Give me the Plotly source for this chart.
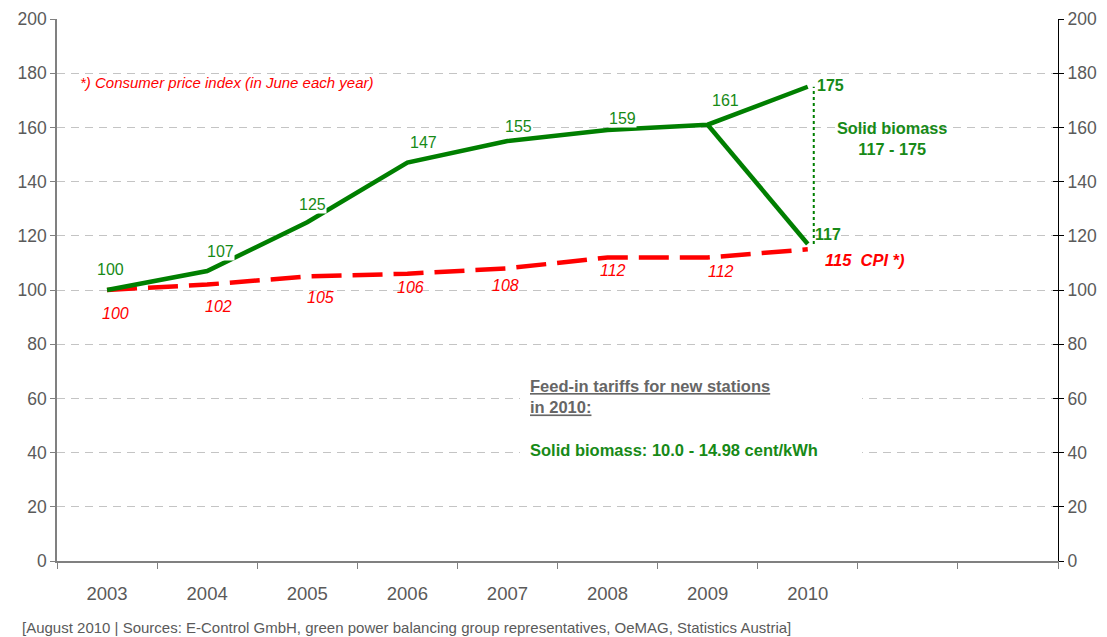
import plotly.graph_objects as go

years = ["2003", "2004", "2005", "2006", "2007", "2008", "2009", "2010"]
biomass_upper = [100, 107, 125, 147, 155, 159, 161, 175]
biomass_lower_2010 = 117
cpi = [100, 102, 105, 106, 108, 112, 112, 115]
y_ticks = [0, 20, 40, 60, 80, 100, 120, 140, 160, 180, 200]

GREEN = "#007f00"
GREEN_TXT = "#178a17"
RED = "#ff0000"
GREY = "#5a5a5a"
FONT = "Liberation Sans, Arial, sans-serif"

xi = list(range(len(years)))
n_slots = 10

# plot area in pixels
PL, PR, PT, PB = 57, 1058, 19, 561
PW, PH = PR - PL, PB - PT


def px(xp):
    return (xp - PL) / PW


def py(yp):
    return (PB - yp) / PH


fig = go.Figure()

fig.add_trace(go.Scatter(x=xi, y=cpi, mode="lines",
                         line=dict(color=RED, width=4.5, dash="30px,11px"),
                         hoverinfo="skip", showlegend=False))
fig.add_trace(go.Scatter(x=xi, y=biomass_upper, mode="lines",
                         line=dict(color=GREEN, width=4.5),
                         hoverinfo="skip", showlegend=False))
fig.add_trace(go.Scatter(x=[xi[-2], xi[-1]], y=[biomass_upper[-2], biomass_lower_2010], mode="lines",
                         line=dict(color=GREEN, width=4.5),
                         hoverinfo="skip", showlegend=False))
fig.add_trace(go.Scatter(x=[xi[-1] + 0.06, xi[-1] + 0.06], y=[biomass_lower_2010, biomass_upper[-1]],
                         mode="lines", line=dict(color=GREEN, width=2, dash="dot"),
                         hoverinfo="skip", showlegend=False))

fig.add_trace(go.Scatter(x=[None], y=[None], yaxis="y2", showlegend=False))
fig.add_trace(go.Scatter(x=[None], y=[None], yaxis="y3", showlegend=False))

ann = []
g_off = [(3, 21), (13, 20), (5, 18), (16, 20), (11, 14), (15, 12), (18, 24), (23, 1)]
for i, (v, (dx, dy)) in enumerate(zip(biomass_upper, g_off)):
    bold = i == len(years) - 1
    a = dict(x=xi[i], y=v, text=f"<b>{v}</b>" if bold else str(v), showarrow=False,
             xshift=dx, yshift=dy, font=dict(family=FONT, size=16, color=GREEN_TXT), borderpad=0)
    if not bold:
        a["bgcolor"] = "white"
    ann.append(a)
ann.append(dict(x=xi[-1], y=biomass_lower_2010, text=f"<b>{biomass_lower_2010}</b>", showarrow=False,
                xshift=20, yshift=9, font=dict(family=FONT, size=16, color=GREEN_TXT)))

r_off = [(8, -23), (11, -22), (13, -21), (3, -14), (-2, -17), (5, -13), (13, -14)]
for i, (v, (dx, dy)) in enumerate(zip(cpi[:-1], r_off)):
    ann.append(dict(x=xi[i], y=v, text=f"<i>{v}</i>", showarrow=False, xshift=dx, yshift=dy,
                    font=dict(family=FONT, size=16, color=RED)))
ann.append(dict(x=xi[-1], y=cpi[-1], text=f"<b><i>{cpi[-1]}  CPI *)</i></b>", showarrow=False,
                xanchor="left", xshift=15, yshift=-11, font=dict(family=FONT, size=16.5, color=RED)))

ann.append(dict(xref="paper", yref="paper", x=px(78), y=py(83),
                text="<i>*) Consumer price index (in June each year)</i>", showarrow=False,
                xanchor="left", yanchor="middle", font=dict(family=FONT, size=15, color=RED)))
ann.append(dict(xref="paper", yref="paper", x=px(892), y=py(138),
                text="<b>Solid biomass<br>117 - 175</b>", showarrow=False, align="center",
                xanchor="center", yanchor="middle",
                font=dict(family=FONT, size=16.3, color=GREEN_TXT)))
ann.append(dict(xref="paper", yref="paper", x=px(528), y=py(396),
                text="<b><u>Feed-in tariffs for new stations</u><br><u>in 2010:</u></b>",
                showarrow=False, xanchor="left", yanchor="middle", align="left",
                font=dict(family=FONT, size=16.5, color="#666666")))
ann.append(dict(xref="paper", yref="paper", x=px(528), y=py(450),
                text="<b>Solid biomass: 10.0 - 14.98 cent/kWh</b>",
                showarrow=False, xanchor="left", yanchor="middle", align="left",
                font=dict(family=FONT, size=16.5, color=GREEN_TXT)))
ann.append(dict(xref="paper", yref="paper", x=px(20), y=py(627),
                text="[August 2010 | Sources: E-Control GmbH, green power balancing group representatives, OeMAG, Statistics Austria]",
                showarrow=False, xanchor="left", yanchor="middle", font=dict(family=FONT, size=15, color=GREY)))

shapes = [dict(type="rect", xref="paper", yref="paper",
               x0=px(520), x1=px(862), y0=py(466), y1=py(374),
               fillcolor="white", line=dict(width=0), layer="above")]

fig.update_layout(
    width=1107, height=637,
    margin=dict(l=PL, r=1107 - PR, t=PT, b=637 - PB, autoexpand=False),
    paper_bgcolor="white", plot_bgcolor="white",
    font=dict(family=FONT, size=16, color=GREY),
    showlegend=False,
    annotations=ann, shapes=shapes,
    xaxis=dict(range=[-0.5, n_slots - 0.5], tickmode="array", tickvals=xi, ticktext=years,
               ticks="", showgrid=False, zeroline=False,
               showline=True, linecolor="#808080", linewidth=1.5,
               tickfont=dict(family=FONT, size=18.5, color=GREY), ticklabelstandoff=15,
               minor=dict(tickmode="array", tickvals=[k - 0.5 for k in range(n_slots + 1)],
                          ticks="outside", ticklen=6, tickcolor="#808080", tickwidth=1, showgrid=False)),
    yaxis=dict(range=[0, 200], tickmode="array", tickvals=y_ticks, showgrid=True,
               gridcolor="#c4c4c4", griddash="8px,6px", gridwidth=1, zeroline=False,
               showline=True, linecolor="#808080", linewidth=1.5,
               ticks="outside", ticklen=5, tickcolor="#808080",
               tickfont=dict(family=FONT, size=17.5, color=GREY)),
    yaxis2=dict(range=[0, 200], tickmode="array", tickvals=y_ticks, overlaying="y", side="right",
                showgrid=False, zeroline=False, showline=True, linecolor="black", linewidth=1.2,
                ticks="outside", ticklen=5, tickcolor="black",
                tickfont=dict(family=FONT, size=17.5, color=GREY)),
    yaxis3=dict(range=[0, 200], tickmode="array", tickvals=y_ticks, overlaying="y", side="right",
                showgrid=False, zeroline=False, showline=False, showticklabels=False,
                ticks="inside", ticklen=5, tickcolor="black"),
)

fig.write_html("out.html", config={"displayModeBar": False},
               post_script="document.body.style.margin='0';document.body.style.padding='0';")
